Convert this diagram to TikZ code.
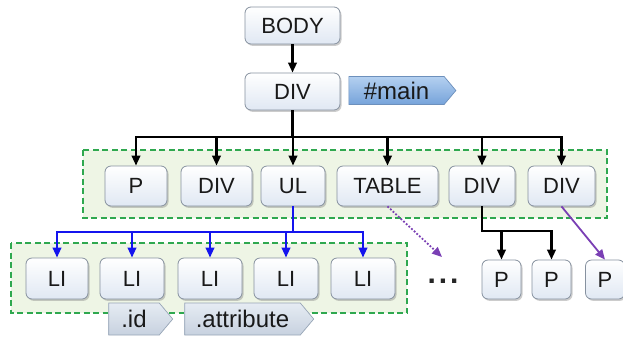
\documentclass[tikz,border=0pt]{standalone}
\usepackage{fontspec}
\setmainfont{Liberation Sans}
\usetikzlibrary{shapes.symbols,shadows,arrows.meta}

\definecolor{boxedge}{HTML}{86919F}
\definecolor{boxbot}{HTML}{E0E8F3}
\definecolor{grpfill}{HTML}{EEF5E5}
\definecolor{grpedge}{HTML}{2FA84F}
\definecolor{tagtop}{HTML}{B4D0F0}
\definecolor{tagbot}{HTML}{76A3DA}
\definecolor{tagedge}{HTML}{6D90BC}
\definecolor{graytop}{HTML}{E6ECF3}
\definecolor{graybot}{HTML}{C7D1DF}
\definecolor{grayedge}{HTML}{97A5B6}
\definecolor{linkblue}{HTML}{1414EE}
\definecolor{linkpurple}{HTML}{7A3FB4}

\tikzset{
  x=1pt, y=-1pt,
  elem/.style={draw=boxedge, line width=0.8pt, rounded corners=6pt,
    top color=white, bottom color=boxbot,
    drop shadow={shadow xshift=1.5pt, shadow yshift=-1.8pt, opacity=0.4},
    font=\fontsize{22}{22}\selectfont, text=black!90, inner sep=0pt},
  tagshape/.style={shape=signal, signal to=east, signal pointer angle=100,
    line width=0.7pt, inner sep=0pt, font=\fontsize{24}{24}\selectfont,
    text=black!90},
  bluetag/.style={tagshape, draw=tagedge, top color=tagtop, bottom color=tagbot},
  graytag/.style={tagshape, draw=grayedge, top color=graytop, bottom color=graybot},
  group/.style={draw=grpedge, fill=grpfill, line width=1.6pt,
    dash pattern=on 6pt off 3.5pt},
  tip/.style={-{Triangle[length=10pt,width=8.5pt]}},
  tree/.style={tip, line width=2.2pt, black},
  bluetree/.style={tip, line width=2.2pt, linkblue},
  hint/.style={tip, line width=1.8pt, linkpurple},
}

\begin{document}
\begin{tikzpicture}
\useasboundingbox (0,0) rectangle (623,341);

% dashed groups of sibling elements
\draw[group] (83,150) rectangle (607,218);
\draw[group] (11,243) rectangle (407,313);

% document root and main container
\node[elem, minimum width=95pt, minimum height=37pt] (body) at (292.5,25.5) {BODY};
\node[elem, minimum width=95pt, minimum height=37pt] (div0) at (292.5,91.5) {DIV};
\node[bluetag, minimum width=107pt, minimum height=28pt] (main) at (396.5,90.5) {\#main\hspace{8pt}};

% children of the main container
\node[elem, minimum width=62pt, minimum height=40pt] (p1)    at (136,186)   {P};
\node[elem, minimum width=71pt, minimum height=40pt] (div1)  at (216.5,186) {DIV};
\node[elem, minimum width=64pt, minimum height=40pt] (ul)    at (293,186)   {UL};
\node[elem, minimum width=101pt, minimum height=40pt] (table) at (387.5,186) {TABLE};
\node[elem, minimum width=66pt, minimum height=40pt] (div2)  at (482,186)   {DIV};
\node[elem, minimum width=67pt, minimum height=40pt] (div3)  at (561.5,186) {DIV};

% list items
\node[elem, minimum width=62pt, minimum height=41pt] (li1) at (57,278.5)  {LI};
\node[elem, minimum width=64pt, minimum height=41pt] (li2) at (132,278.5) {LI};
\node[elem, minimum width=64pt, minimum height=41pt] (li3) at (210,278.5) {LI};
\node[elem, minimum width=64pt, minimum height=41pt] (li4) at (286,278.5) {LI};
\node[elem, minimum width=64pt, minimum height=41pt] (li5) at (363,278.5) {LI};

% selector labels
\node[graytag, minimum width=64pt, minimum height=32pt] (id) at (134,319) {.id\hspace{6pt}};
\node[graytag, minimum width=129pt, minimum height=32pt] (attr) at (242.5,319) {.attribute\hspace{6pt}};

% paragraphs
\node[elem, minimum width=39pt, minimum height=39pt] (pa) at (501.5,279.5) {P};
\node[elem, minimum width=39pt, minimum height=39pt] (pb) at (551.5,279.5) {P};
\node[elem, minimum width=39pt, minimum height=39pt] (pc) at (605,279.5)   {P};

\node[font=\fontsize{30}{30}\bfseries, text=black!85, inner sep=0pt] (more) at (443,281)
  {.\kern3pt.\kern3pt.};

% connectors
\draw[tree] (body.south) -- (div0.north);
\coordinate (bar) at (293,137);
\foreach \c in {p1,div1,ul,table,div2,div3}
  \draw[tree, line join=miter] (div0.south) -- (div0.south |- bar) -| (\c.north);

\coordinate (bluebar) at (293,232);
\foreach \c in {li1,li2,li3,li4,li5}
  \draw[bluetree, line join=miter] (ul.south) -- (ul.south |- bluebar) -| (\c.north);

\coordinate (pbar) at (482,231);
\foreach \c in {pa,pb}
  \draw[tree, line join=miter] (div2.south) -- (div2.south |- pbar) -| (\c.north);

\coordinate (tableend) at (442,257);
\draw[hint, dash pattern=on 1.8pt off 1.8pt] (table.south) -- (tableend);
\draw[hint] (div3.south) -- (pc.north);
\end{tikzpicture}
\end{document}
